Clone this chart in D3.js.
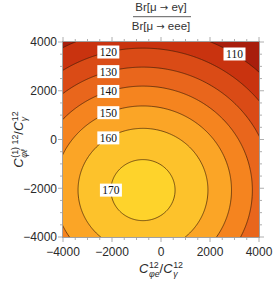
<!DOCTYPE html>
<html>
<head>
<meta charset="utf-8">
<script src="https://cdn.jsdelivr.net/npm/d3@7"></script>
<style>
  body { margin: 0; background: #fff; }
  svg { display: block; font-family: "Liberation Sans", Arial, sans-serif; }
</style>
</head>
<body>
<svg id="chart" width="273" height="282"></svg>
<script>
// contour levels and the fill of each band, lowest band first
var levels = [110, 120, 130, 140, 150, 160, 170];
var bandColors = ["#a81e0d", "#c9330f", "#da4b16", "#e9661c", "#f5841f", "#fba526", "#fdc22b", "#fed32b"];
var tickValues = [-4000, -2000, 0, 2000, 4000];

// which contours carry a label, and at what x (data units)
var labelLevels = [110, 120, 130, 140, 150, 160, 170];
var labelX = [3000, -2150, -2150, -2150, -2150, -2150, -2150];

// ratio surface: peak, centre, width, squash in y
var peak = 173.5;
var centre = [-735, -2077];
var width0 = 9126;
var ySquash = 0.956;

function ratio(cx, cy) {
  var dx = cx - centre[0], dy = (cy - centre[1]) / ySquash;
  return peak / (1 + (dx * dx + dy * dy) / (width0 * width0));
}

var svg = d3.select("#chart");
var pLeft = 63, pRight = 259, pTop = 42, pBottom = 237;

var x = d3.scaleLinear().domain([-4000, 4000]).range([pLeft, pRight]);
var y = d3.scaleLinear().domain([-4000, 4000]).range([pBottom, pTop]);

// sample grid, a bit wider than the frame so the edges get clipped off
var step = 40, lo = -4400, n = Math.round(8800 / step) + 1;
var values = new Array(n * n);
for (var j = 0; j < n; j++) {
  for (var i = 0; i < n; i++) {
    values[i + j * n] = ratio(lo + i * step, -lo - j * step);
  }
}

var contours = d3.contours().size([n, n]).thresholds(levels)(values);

var proj = d3.geoTransform({
  point: function(gx, gy) {
    this.stream.point(x(lo + (gx - 0.5) * step), y(-lo - (gy - 0.5) * step));
  }
});
var path = d3.geoPath(proj);

svg.append("clipPath").attr("id", "plotclip")
  .append("rect")
    .attr("x", pLeft).attr("y", pTop)
    .attr("width", pRight - pLeft).attr("height", pBottom - pTop);

var plot = svg.append("g").attr("clip-path", "url(#plotclip)");

plot.append("rect")
    .attr("x", pLeft).attr("y", pTop)
    .attr("width", pRight - pLeft).attr("height", pBottom - pTop)
    .attr("fill", bandColors[0]);

plot.selectAll("path.band")
  .data(contours)
  .enter().append("path")
    .attr("class", "band")
    .attr("d", path)
    .attr("fill", function(d, k) { return bandColors[k + 1]; });

plot.selectAll("path.line")
  .data(contours)
  .enter().append("path")
    .attr("class", "line")
    .attr("d", path)
    .attr("fill", "none")
    .attr("stroke", "#3a1a08")
    .attr("stroke-opacity", 0.85)
    .attr("stroke-width", 0.8);

// contour labels sit on their line
labelLevels.forEach(function(L, k) {
  var q = width0 * width0 * (peak / L - 1);
  var lx = labelX[k], dx = lx - centre[0], ly;
  if (q - dx * dx > 0) {
    ly = centre[1] + ySquash * Math.sqrt(q - dx * dx);
  } else {
    lx = centre[0] - Math.sqrt(q);
    ly = centre[1];
  }
  var g = plot.append("g").attr("transform", "translate(" + x(lx) + "," + y(ly) + ")");
  g.append("rect")
    .attr("x", -11).attr("y", -6.5)
    .attr("width", 22).attr("height", 13)
    .attr("fill", "#fff");
  g.append("text")
    .attr("text-anchor", "middle")
    .attr("dy", "0.35em")
    .style("font-family", "'Liberation Serif', 'Times New Roman', serif")
    .style("font-size", "11.5px")
    .attr("fill", "#111")
    .text(L);
});

// frame
svg.append("rect")
    .attr("x", pLeft - 0.5).attr("y", pTop - 0.5)
    .attr("width", pRight - pLeft + 1).attr("height", pBottom - pTop + 1)
    .attr("fill", "none")
    .attr("stroke", "#a0a0a0")
    .attr("stroke-width", 1);

var minor = d3.range(-4000, 4001, 500);
var tickG = svg.append("g").attr("stroke", "#9a9a9a").attr("stroke-width", 0.8);
minor.forEach(function(v) {
  var len = v % 2000 === 0 ? 4.5 : 2.5;
  tickG.append("line").attr("x1", x(v)).attr("x2", x(v)).attr("y1", pBottom + 0.5).attr("y2", pBottom + 0.5 + len);
  tickG.append("line").attr("x1", x(v)).attr("x2", x(v)).attr("y1", pTop - 0.5).attr("y2", pTop - 0.5 - len);
  tickG.append("line").attr("y1", y(v)).attr("y2", y(v)).attr("x1", pLeft - 0.5).attr("x2", pLeft - 0.5 - len);
  tickG.append("line").attr("y1", y(v)).attr("y2", y(v)).attr("x1", pRight + 0.5).attr("x2", pRight + 0.5 + len);
});

var fmt = d3.format("d");
svg.selectAll("text.xtick")
  .data(tickValues)
  .enter().append("text")
    .attr("class", "xtick")
    .attr("x", function(d) { return x(d); })
    .attr("y", 256)
    .attr("text-anchor", "middle")
    .style("font-size", "12px")
    .attr("fill", "#2a2a2a")
    .text(function(d) { return fmt(d); });

svg.selectAll("text.ytick")
  .data(tickValues)
  .enter().append("text")
    .attr("class", "ytick")
    .attr("x", 57)
    .attr("y", function(d) { return y(d); })
    .attr("dy", "0.36em")
    .attr("text-anchor", "end")
    .style("font-size", "12px")
    .attr("fill", "#2a2a2a")
    .text(function(d) { return fmt(d); });

// title as a fraction
var cxMid = (pLeft + pRight) / 2;
var title = svg.append("g").attr("fill", "#333").style("font-size", "11.5px");
function titleLine(yy, before, after) {
  var t = title.append("text").attr("x", cxMid).attr("y", yy).attr("text-anchor", "middle");
  t.append("tspan").text(before);
  t.append("tspan").style("font-family", "'DejaVu Sans', sans-serif").style("font-size", "10px").text("\u2192");
  t.append("tspan").text(after);
}
titleLine(11, "Br[\u03bc ", " e\u03b3]");
titleLine(30.3, "Br[\u03bc ", " eee]");
svg.append("line")
    .attr("x1", 133).attr("x2", 191)
    .attr("y1", 16.7).attr("y2", 16.7)
    .attr("stroke", "#333").attr("stroke-width", 0.8);

// C with stacked super/subscripts
function mathLabel(g, parts, size) {
  var pos = 0, small = size * 0.68;
  parts.forEach(function(p) {
    var t = g.append("text").attr("x", pos).attr("y", 0)
      .style("font-size", size + "px")
      .style("font-style", p.italic ? "italic" : "normal")
      .text(p.t);
    pos += t.node().getComputedTextLength() + (p.pad || 0);
    var sw = 0;
    if (p.sup) {
      var s = g.append("text").attr("x", pos).attr("y", -size * 0.42)
        .style("font-size", small + "px").text(p.sup);
      sw = s.node().getComputedTextLength();
    }
    if (p.sub) {
      var b = g.append("text").attr("x", pos).attr("y", size * 0.32)
        .style("font-size", small + "px").style("font-style", "italic").text(p.sub);
      sw = Math.max(sw, b.node().getComputedTextLength());
    }
    pos += sw;
  });
  return pos;
}

var xl = svg.append("g").attr("fill", "#2a2a2a");
var xw = mathLabel(xl, [
  { t: "C", italic: true, pad: 0.5, sup: "12", sub: "\u03c6e" },
  { t: "/" },
  { t: "C", italic: true, pad: 0.5, sup: "12", sub: "\u03b3" }
], 13);
xl.attr("transform", "translate(" + (cxMid - xw / 2) + ",273)");

var yOuter = svg.append("g").attr("transform", "translate(23," + ((pTop + pBottom) / 2) + ") rotate(-90)");
var yl = yOuter.append("g").attr("fill", "#2a2a2a");
var yw = mathLabel(yl, [
  { t: "C", italic: true, pad: 0.5, sup: "(1) 12", sub: "\u03c6\u2113" },
  { t: "/" },
  { t: "C", italic: true, pad: 0.5, sup: "12", sub: "\u03b3" }
], 13);
yl.attr("transform", "translate(" + (-yw / 2) + ",0)");
</script>
</body>
</html>
